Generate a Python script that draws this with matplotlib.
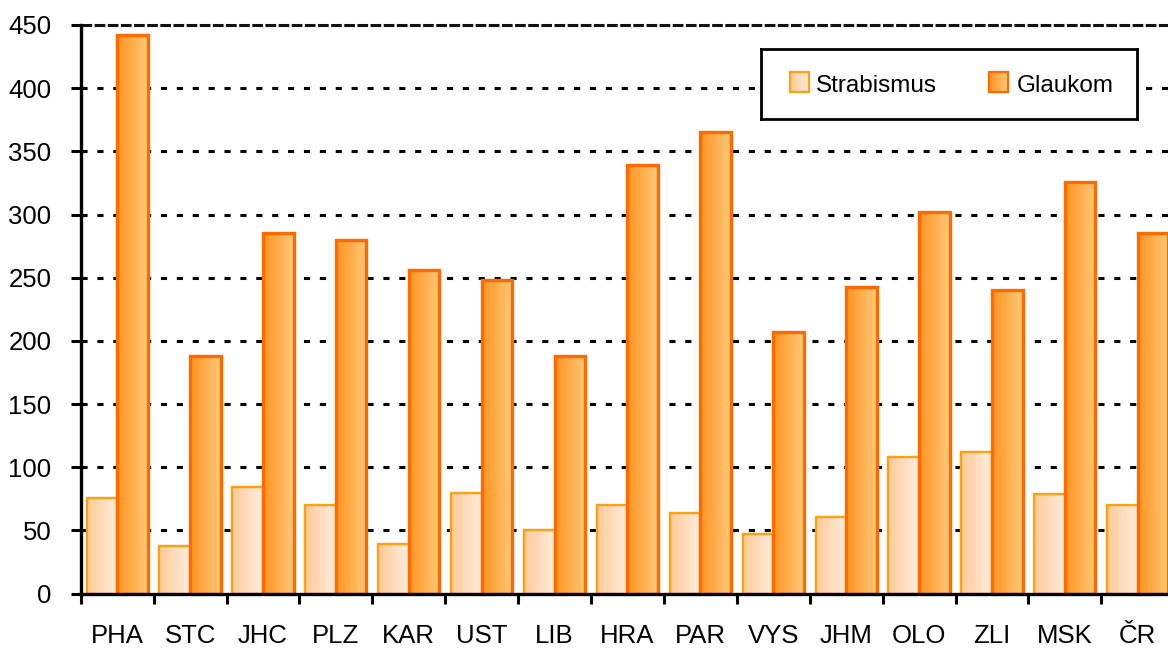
import numpy as np
import matplotlib
matplotlib.use("Agg")
import matplotlib.pyplot as plt
from matplotlib.colors import LinearSegmentedColormap
from matplotlib.patches import Rectangle

plt.rcParams['font.family'] = ['Liberation Sans', 'DejaVu Sans']

# Regions and counts per series
regions = ['PHA', 'STC', 'JHC', 'PLZ', 'KAR', 'UST', 'LIB', 'HRA',
           'PAR', 'VYS', 'JHM', 'OLO', 'ZLI', 'MSK', 'ČR']
strabismus = [76, 38, 84, 70, 39, 80, 50, 70, 64, 47, 61, 108, 112, 79, 70]
glaukom = [442, 188, 285, 280, 256, 248, 188, 339, 365, 207, 243, 302, 240, 326, 285]
y_ticks = [0, 50, 100, 150, 200, 250, 300, 350, 400, 450]

series = [
    ('Strabismus', strabismus, ('#FFCB98', '#FFEDDD'), '#FFA010', 1.7),
    ('Glaukom', glaukom, ('#FF9420', '#FFC877'), '#FF6A00', 2.4),
]

W, H = 1168, 651
fig = plt.figure(figsize=(W / 100, H / 100), dpi=100)

# plot area in pixel terms
x0px, cat_px, y0px, ytop_px = 80.7, 72.9, 593.6, 25.0
x1px = x0px + cat_px * len(regions)
ax = fig.add_axes([x0px / W, 1 - y0px / H, (x1px - x0px) / W, (y0px - ytop_px) / H])

grad = np.linspace(0, 1, 64).reshape(1, -1)
width = 0.42
x = np.arange(len(regions))

for i, (name, vals, (c_left, c_right), edge, lw) in enumerate(series):
    cmap = LinearSegmentedColormap.from_list(name, [c_left, c_right])
    offs = (-0.5 + i) * width
    bars = ax.bar(x + offs, vals, width=width, facecolor='none',
                  edgecolor=edge, linewidth=lw, zorder=4)
    for b in bars:
        bx, bw, bh = b.get_x(), b.get_width(), b.get_height()
        ax.imshow(grad, cmap=cmap, extent=(bx, bx + bw, 0, bh), aspect='auto',
                  interpolation='bicubic', zorder=3)

ax.set_xlim(-0.5, len(regions) - 0.5)
ax.set_ylim(0, 450)

# dashed horizontal grid, heavier line along the top
for yv in y_ticks[1:-1]:
    ax.axhline(yv, color='black', linewidth=2.2, linestyle=(0, (2, 3.2)), zorder=1)
ax.axhline(450, color='#111111', linewidth=2.2, linestyle=(0, (3.5, 0.8)), zorder=1, clip_on=False)

for s in ['top', 'right']:
    ax.spines[s].set_visible(False)
for s in ['left', 'bottom']:
    ax.spines[s].set_linewidth(2.4)
    ax.spines[s].set_color('black')
    ax.spines[s].set_zorder(6)

ax.set_yticks(y_ticks)
ax.set_yticklabels([str(v) for v in y_ticks])
ax.tick_params(axis='y', direction='out', length=7.2, width=2.2, pad=14, labelsize=18.5)

ax.set_xticks(np.arange(len(regions) + 1) - 0.5)
ax.set_xticklabels([])
ax.tick_params(axis='x', which='major', direction='out', length=7, width=2.2)
ax.set_xticks(x, minor=True)
ax.set_xticklabels(regions, minor=True)
ax.tick_params(axis='x', which='minor', length=0, pad=22, labelsize=18.5)

# legend box
lx0, ly0, lx1, ly1 = 760.7, 49.3, 1136.7, 119.0
lax = fig.add_axes([lx0 / W, 1 - ly1 / H, (lx1 - lx0) / W, (ly1 - ly0) / H], zorder=10)
lax.set_xticks([])
lax.set_yticks([])
lax.set_facecolor('white')
for s in lax.spines.values():
    s.set_linewidth(2.0)
    s.set_color('black')

entries = [(29.3, 55.3), (228.6, 256.0)]
for (sx, tx), (name, vals, (c_left, c_right), edge, lw) in zip(entries, series):
    cmap = LinearSegmentedColormap.from_list(name, [c_left, c_right])
    lax.imshow(grad, cmap=cmap, extent=(sx, sx + 19, 42.7, 22.7), aspect='auto', zorder=2)
    lax.add_patch(Rectangle((sx, 22.7), 19, 20, facecolor='none', edgecolor=edge,
                            linewidth=1.6, zorder=3))
    lax.text(tx, 43.0, name, fontsize=17.5, va='baseline', ha='left', color='black')
lax.set_xlim(0, lx1 - lx0)
lax.set_ylim(ly1 - ly0, 0)

fig.savefig('out.png', dpi=100)
